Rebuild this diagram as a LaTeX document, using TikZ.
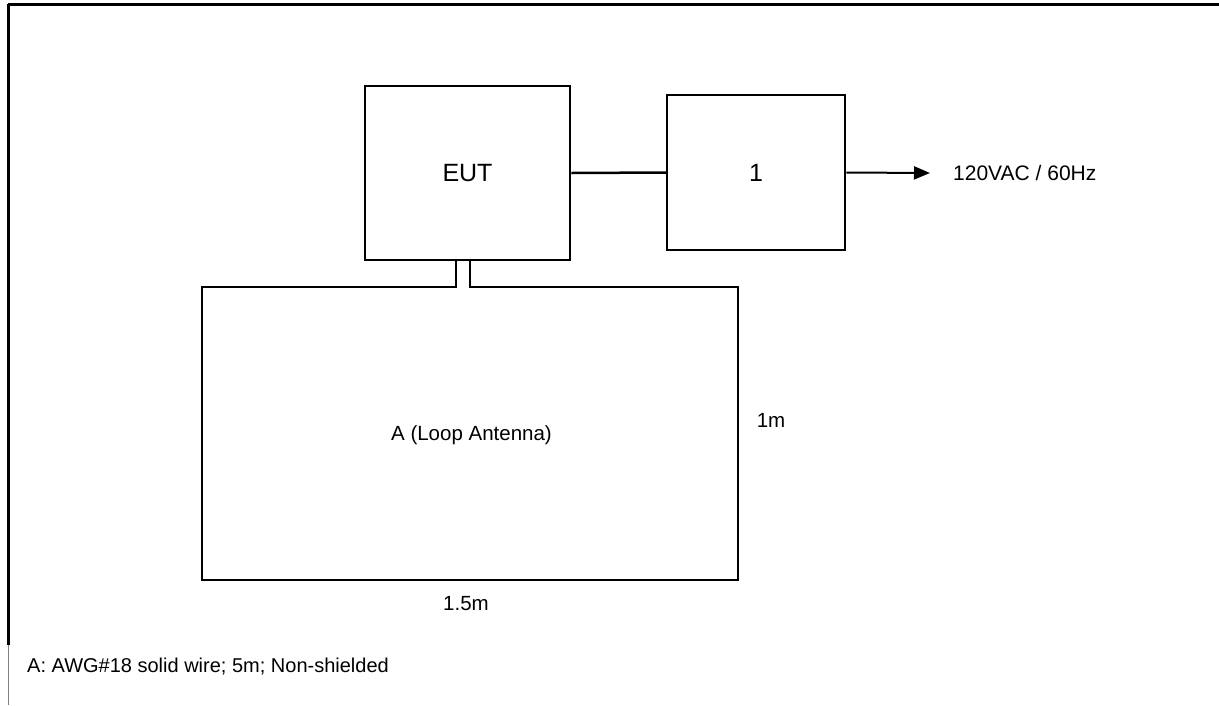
\documentclass[tikz,border=0pt]{standalone}
\usepackage{fontspec}
\setmainfont{Liberation Sans}
\usepackage{tikz}
\usetikzlibrary{arrows.meta,positioning,calc}
\tikzset{
  unit/.style={draw=black, line width=2.5pt, align=center, inner sep=0pt},
  wire/.style={draw=black, line width=2.5pt},
  feed/.style={draw=black, line width=2pt, -{Triangle[length=16pt,width=13pt]}},
  lbl/.style={font=\fontsize{20.5}{24}\selectfont, inner sep=0pt},
  big/.style={font=\fontsize{25}{29}\selectfont},
  frame/.style={draw=black, line width=3pt}
}
\begin{document}
\begin{tikzpicture}[x=1pt,y=-1pt]
    \useasboundingbox (0,0) rectangle (1219,705);
    % frame
    \draw[frame] (8,4) -- (1219,4);
    \draw[frame] (8,4) -- (8,645);
    \draw[gray, line width=1pt] (8,645) -- (8,705);
    % units
    \node[unit, big, minimum width=205pt, minimum height=174pt] (eut) at (467.5,173) {EUT};
    \node[unit, big, minimum width=178pt, minimum height=155pt] (pwr) at (756,172.5) {\raisebox{-3pt}{1}};
    \node[lbl, minimum width=536pt, minimum height=293pt, text depth=0pt] (ant) at (470,433.5) {\hspace{3pt}A (Loop Antenna)};
    \node[lbl, font=\fontsize{21}{25}\selectfont, anchor=west] (ac) at (953,173) {120VAC / 60Hz};
    \node[lbl] (hgt) at (771,420) {1m};
    \node[lbl] (wid) at (466,604) {1.5m};
    \node[lbl, font=\fontsize{20}{24}\selectfont, anchor=west] (note) at (27,667) {A: AWG\#18 solid wire; 5m; Non-shielded};
    % connections
    \draw[wire] (eut.east) -- (pwr.west);
    \draw[feed] (pwr.east) -- ($(ac.west)+(-23,0)$);
    % loop antenna
    \draw[wire] ($(eut.south)+(-11.5,0)$) |- (ant.north west) -- (ant.south west)
      -- (ant.south east) -- (ant.north east) -| ($(eut.south)+(2.5,0)$);
  \end{tikzpicture}
\end{document}
